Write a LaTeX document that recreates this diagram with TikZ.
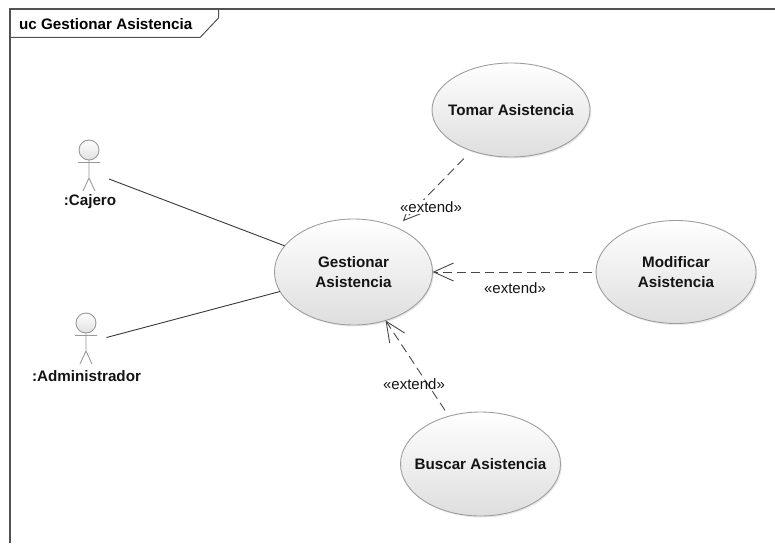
\documentclass[tikz,border=0pt]{standalone}
\usepackage{fontspec}
\setmainfont{Liberation Sans}
\usetikzlibrary{arrows.meta,shapes.geometric,shadows}
\begin{document}
\begin{tikzpicture}[x=1pt,y=-1pt,
  uc/.style={ellipse, draw=black!38, line width=0.9pt, inner sep=0pt, outer sep=0pt,
    top color=white, bottom color=black!13,
    drop shadow={opacity=0.18, shadow xshift=1.3pt, shadow yshift=-1.5pt}},
  uctext/.style={font=\fontsize{15.2}{19.5}\selectfont\bfseries, align=center, text=black!92},
  actlabel/.style={font=\fontsize{15.2}{17}\selectfont\bfseries, text=black!92},
  extlabel/.style={font=\fontsize{15}{17}\selectfont, text=black!92, inner sep=1pt},
  assoc/.style={draw=black!78, line width=0.9pt},
  extend/.style={draw=black!72, line width=0.9pt, dash pattern=on 9pt off 5pt,
    -{Straight Barb[length=20pt,width=18pt,line width=0.9pt]}},
  frameline/.style={draw=black!68, line width=1.3pt},
  actorline/.style={draw=black!40, line width=0.9pt},
  actor/.pic={
    \draw[actorline, top color=white, bottom color=black!12] (0,0) circle (10pt);
    \draw[actorline] (0,10) -- (0,28) (-11,12.5) -- (11,12.5)
      (-6,41) -- (0,28) -- (6,41);
  }]
\useasboundingbox (0,0) rectangle (775,543);
% frame
\draw[frameline] (10,543) -- (10,9) -- (775,9);
\coordinate (tabA) at (10,37.5);
\coordinate (tabB) at (200,37.5);
\coordinate (tabC) at (218.5,18);
\coordinate (tabD) at (218.5,9);
\draw[frameline, line width=1pt] (tabA) -- (tabB) -- (tabC) -- (tabD);
\node[anchor=west, font=\fontsize{15.2}{17}\selectfont\bfseries, inner sep=0pt] (title) at (19,24.5) {uc Gestionar Asistencia};

% use cases
\node[uc, minimum width=158pt, minimum height=94pt] (tomar) at (511,110) {};
\node[uctext] (tomarT) at (tomar) {Tomar Asistencia};
\node[uc, minimum width=158pt, minimum height=106pt] (gest) at (353.5,272) {};
\node[uctext] (gestT) at (gest) {Gestionar\\Asistencia};
\node[uc, minimum width=160pt, minimum height=103pt] (modif) at (676,272) {};
\node[uctext] (modifT) at (modif) {Modificar\\Asistencia};
\node[uc, minimum width=160pt, minimum height=104pt] (buscar) at (480.5,464) {};
\node[uctext] (buscarT) at (buscar) {Buscar Asistencia};

% actors
\pic at (89,150) {actor};
\node[actlabel] (cajero) at (90,202) {:Cajero};
\pic at (86,323) {actor};
\node[actlabel] (admin) at (86.5,376) {:Administrador};
\coordinate (cajR) at (109,179);
\coordinate (admR) at (106.5,337.5);

% associations
\draw[assoc] (cajR) -- (gest);
\draw[assoc] (admR) -- (gest);

% extends
\draw[extend, shorten <=11pt, shorten >=9pt] (tomar) -- (gest);
\node[extlabel, fill=white] (ext1) at (431,207) {«extend»};
\draw[extend, shorten <=4pt] (modif) -- (gest);
\node[extlabel] (ext2) at (515,288) {«extend»};
\draw[extend, shorten <=7pt] (buscar) -- (gest);
\node[extlabel] (ext3) at (414,384) {«extend»};
\end{tikzpicture}
\end{document}
